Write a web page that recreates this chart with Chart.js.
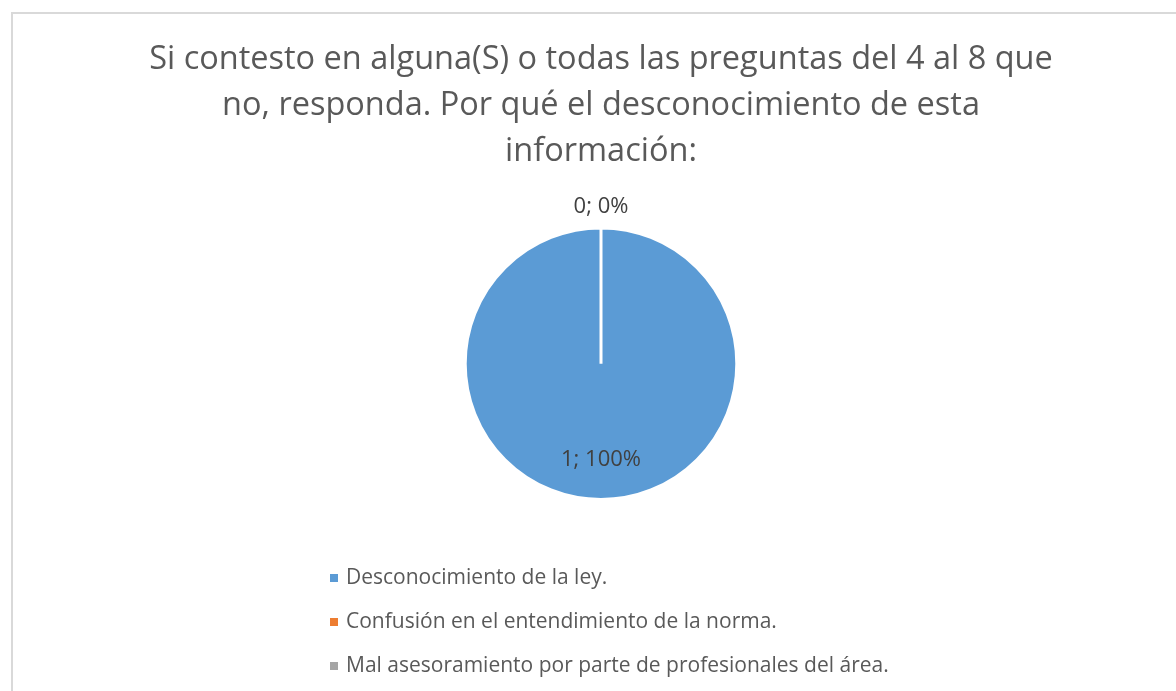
<!DOCTYPE html>
<html>
<head>
<meta charset="utf-8">
<script src="https://cdn.jsdelivr.net/npm/chart.js@4/dist/chart.umd.min.js"></script>
<style>
  html, body { margin: 0; padding: 0; background: #fff; }
  #wrap { position: relative; width: 1176px; height: 691px; overflow: hidden; }
  #frame { position: absolute; left: 11px; top: 12px; width: 1200px; height: 720px;
           border-top: 2px solid #d9d9d9; border-left: 2px solid #d9d9d9; box-sizing: border-box; }
  #chart { position: absolute; left: 0; top: 0; }
  #legend { position: absolute; left: 330px; top: 562px; margin: 0; padding: 0; list-style: none;
            font-family: "Open Sans", sans-serif; font-size: 21px; color: #595959; }
  #legend li { height: 44px; line-height: 28px; white-space: nowrap; }
  #legend span.box { display: inline-block; width: 8px; height: 8px; margin-right: 8px; vertical-align: 2px; }
</style>
</head>
<body>
<div id="wrap">
  <div id="frame"></div>
  <canvas id="chart" width="1176" height="691"></canvas>
  <ul id="legend"></ul>
</div>
<script>
const titleLines = [
  'Si contesto en alguna(S) o todas las preguntas del 4 al 8 que',
  'no, responda. Por qué el desconocimiento de esta',
  'información:'
];
const categories = [
  'Desconocimiento de la ley.',
  'Confusión en el entendimiento de la norma.',
  'Mal asesoramiento por parte de profesionales del área.'
];
const values = [1, 0, 0];
const colors = ['#5B9BD5', '#ED7D31', '#A5A5A5'];

// Excel-style "value; percent" labels
const sliceLabels = {
  id: 'sliceLabels',
  afterDatasetsDraw(chart) {
    const ctx = chart.ctx;
    const meta = chart.getDatasetMeta(0);
    const total = values.reduce((a, b) => a + b, 0);
    const seen = {};
    ctx.save();
    ctx.font = '22px "Open Sans", sans-serif';
    ctx.fillStyle = '#404040';
    ctx.textAlign = 'center';
    ctx.textBaseline = 'middle';
    meta.data.forEach((arc, i) => {
      const p = arc.getProps(['x', 'y', 'startAngle', 'endAngle', 'outerRadius'], true);
      const mid = (p.startAngle + p.endAngle) / 2;
      const v = values[i];
      const r = v > 0 ? p.outerRadius * 0.71 : p.outerRadius + 21;
      const x = p.x + Math.cos(mid) * r;
      const y = p.y + Math.sin(mid) * r;
      const key = Math.round(x) + ',' + Math.round(y);
      if (seen[key]) return;
      seen[key] = true;
      const pct = Math.round(v / total * 100);
      ctx.fillText(v + '; ' + pct + '%', x, y);
    });
    ctx.restore();
  }
};

const chart = new Chart(document.getElementById('chart'), {
  type: 'pie',
  data: {
    labels: categories,
    datasets: [{
      data: values,
      backgroundColor: colors,
      borderColor: '#ffffff',
      borderWidth: 3
    }]
  },
  options: {
    responsive: false,
    animation: false,
    layout: { padding: { top: 0, bottom: 190, left: 26, right: 0 } },
    plugins: {
      legend: { display: false },
      tooltip: { enabled: false },
      title: {
        display: true,
        text: titleLines,
        color: '#595959',
        font: { family: '"Open Sans", sans-serif', size: 32.5, weight: 'normal', lineHeight: 1.43 },
        padding: { top: 36, bottom: 51 }
      }
    }
  },
  plugins: [sliceLabels]
});

// vertical legend built from the chart's own legend items
const ul = document.getElementById('legend');
chart.options.plugins.legend.labels.generateLabels(chart).forEach(item => {
  const li = document.createElement('li');
  const box = document.createElement('span');
  box.className = 'box';
  box.style.background = item.fillStyle;
  li.appendChild(box);
  li.appendChild(document.createTextNode(item.text));
  ul.appendChild(li);
});
</script>
</body>
</html>
